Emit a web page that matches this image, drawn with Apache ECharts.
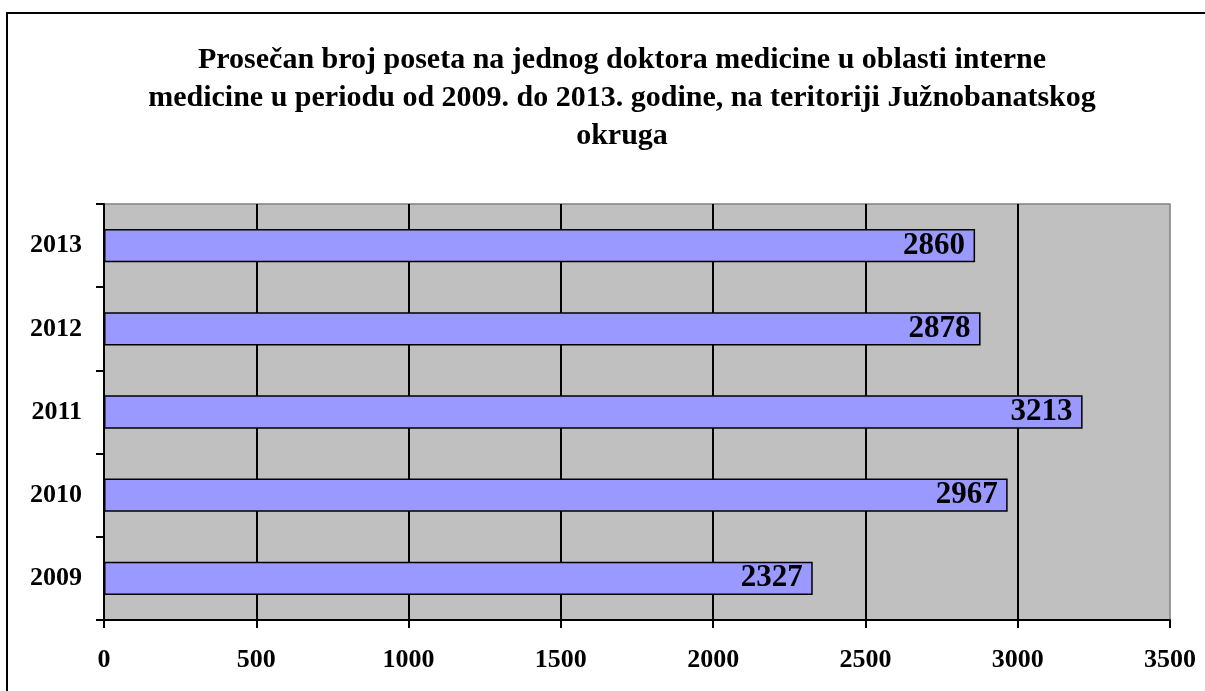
<!DOCTYPE html>
<html>
<head>
<meta charset="utf-8">
<script src="https://cdn.jsdelivr.net/npm/echarts@6/dist/echarts.min.js"></script>
<style>html,body{margin:0;padding:0;background:#fff;}#c{width:1205px;height:691px;}</style>
</head>
<body>
<div id="c"></div>
<script>
const titleText = 'Prosečan broj poseta na jednog doktora medicine u oblasti interne\nmedicine u periodu od 2009. do 2013. godine, na teritoriji Južnobanatskog\nokruga';
const categories = ['2009', '2010', '2011', '2012', '2013'];
const values = [2327, 2967, 3213, 2878, 2860];
const xTicks = { min: 0, max: 3500, interval: 500 };

const font = '"Liberation Serif", "Times New Roman", serif';
const chart = echarts.init(document.getElementById('c'), null, { renderer: 'canvas' });
chart.setOption({
  animation: false,
  backgroundColor: '#fff',
  title: {
    text: titleText,
    left: 617,
    top: 36,
    textAlign: 'center',
    textStyle: { fontFamily: font, fontWeight: 'bold', fontSize: 30, lineHeight: 38, color: '#000' }
  },
  graphic: [{
    type: 'rect',
    shape: { x: 7, y: 13, width: 1220, height: 700 },
    style: { fill: 'none', stroke: '#000', lineWidth: 2 },
    z: 100
  }],
  grid: {
    left: 104, right: 35, top: 204, bottom: 71,
    show: true, backgroundColor: '#c0c0c0', borderColor: '#808080', borderWidth: 1.5
  },
  xAxis: {
    type: 'value',
    min: xTicks.min, max: xTicks.max, interval: xTicks.interval,
    axisLine: { show: true, lineStyle: { color: '#000', width: 2 } },
    axisTick: { show: true, length: 8, lineStyle: { color: '#000', width: 2 } },
    axisLabel: { margin: 27, fontFamily: font, fontWeight: 'bold', fontSize: 26, color: '#000',
      formatter: v => String(v) },
    splitLine: { show: true, showMinLine: false, showMaxLine: false, lineStyle: { color: '#000', width: 2 } }
  },
  yAxis: {
    type: 'category',
    data: categories,
    axisLine: { show: true, lineStyle: { color: '#000', width: 2 } },
    axisTick: { show: true, length: 8, lineStyle: { color: '#000', width: 2 } },
    axisLabel: { margin: 22, fontFamily: font, fontWeight: 'bold', fontSize: 26, color: '#000' },
    splitLine: { show: false }
  },
  series: [{
    type: 'bar',
    data: values,
    barWidth: '40%',
    itemStyle: { color: '#9999ff', borderColor: '#000', borderWidth: 1.5 },
    label: {
      show: true, position: 'insideRight', distance: 10,
      fontFamily: font, fontWeight: 'bold', fontSize: 31, color: '#000'
    }
  }]
});
</script>
</body>
</html>
